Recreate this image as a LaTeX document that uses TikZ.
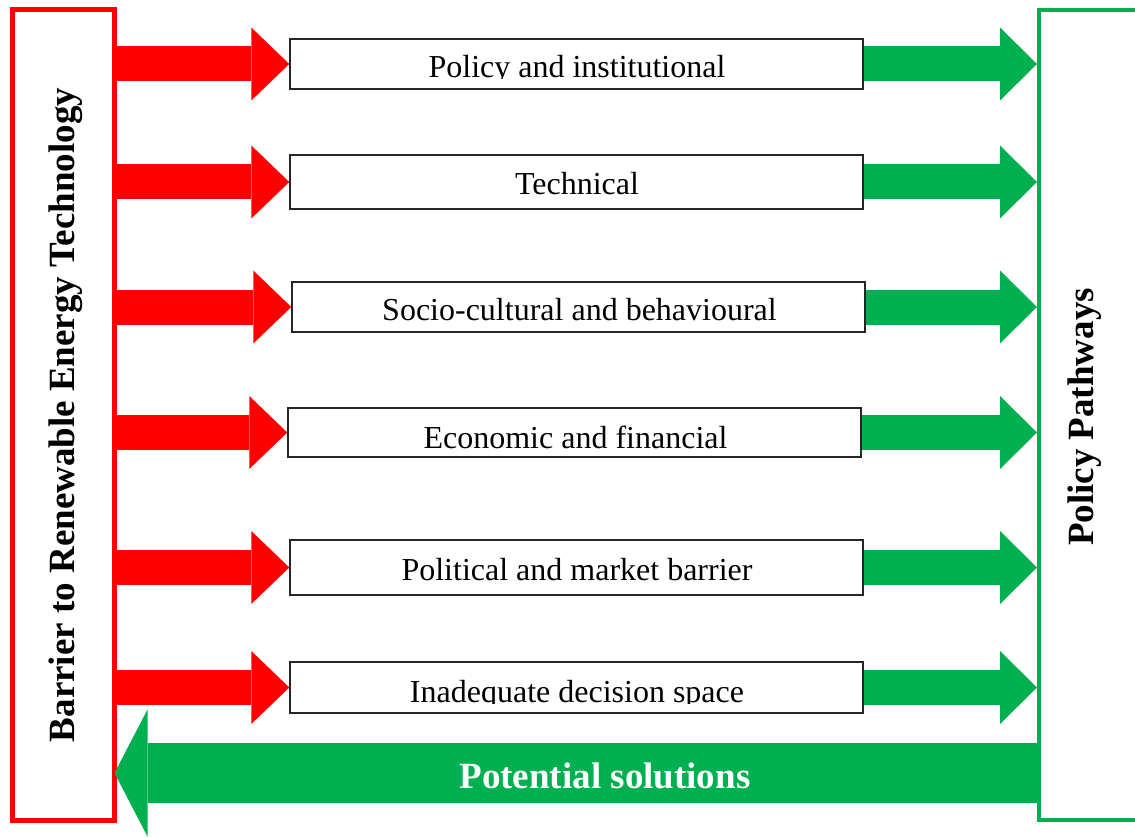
\documentclass[tikz,border=0pt]{standalone}
\usepackage{fontspec}
\setmainfont{Liberation Serif}
\usetikzlibrary{arrows.meta}
\definecolor{rojo}{RGB}{255,0,0}
\definecolor{verde}{RGB}{0,176,80}
\tikzset{
  caja/.style={draw=black!85, line width=1.4pt, minimum width=573pt, inner sep=0pt},
  texto/.style={anchor=base, inner sep=0pt, font=\fontsize{32}{38}\selectfont},
  titulo/.style={rotate=90, inner sep=0pt, font=\fontsize{37}{44}\selectfont\bfseries},
  flechaRoja/.style={rojo, line width=35pt, -{Triangle[length=38pt,width=73pt,line width=0pt]}},
  flechaVerde/.style={verde, line width=35pt, -{Triangle[length=37pt,width=73pt,line width=0pt]}},
}
\begin{document}
\begin{tikzpicture}[x=1pt,y=-1pt]
        \useasboundingbox (0,0) rectangle (1135,837);
        \clip (0,0) rectangle (1135,837);

        % Marcos laterales
        \node[draw=rojo, line width=5pt, minimum width=101.5pt, minimum height=810pt, inner sep=0pt] (barrera) at (63.25,415) {};
        \node[draw=verde, line width=4pt, minimum width=160pt, minimum height=810pt, inner sep=0pt] (vias) at (1119,415) {};
        \node[titulo] (tbarrera) at (66,415) {Barrier to Renewable Energy Technology};
        \node[titulo] (tvias) at (1085,417) {Policy Pathways};

        % Cajas de barreras
        \node[caja, minimum height=50pt] (c1) at (576.5,64) {};
        \node[caja, minimum height=54pt] (c2) at (576.5,182) {};
        \node[caja, minimum height=50pt] (c3) at (578.5,307) {};
        \node[caja, minimum height=49pt] (c4) at (574.5,432.5) {};
        \node[caja, minimum height=55pt] (c5) at (576.5,567.5) {};
        \node[caja, minimum height=51pt] (c6) at (576.5,687.5) {};

        % Textos (el primero y el ultimo salen cortados abajo)
        \begin{scope}
          \clip (290,39) rectangle (863,79);
          \node[texto] (t1) at (577,78) {Policy and institutional};
        \end{scope}
        \node[texto] (t2) at (577,195) {Technical};
        \node[texto] (t3) at (579.5,320) {Socio-cultural and behavioural};
        \node[texto] (t4) at (575.5,448) {Economic and financial};
        \node[texto] (t5) at (577,580) {Political and market barrier};
        \begin{scope}
          \clip (290,662) rectangle (863,703);
          \node[texto] (t6) at (577,702) {Inadequate decision space};
        \end{scope}

        % Flechas rojas y verdes
        \foreach \c in {c1,c2,c3,c4,c5,c6} {
          \draw[flechaRoja] (barrera.east |- \c) -- (\c.west);
          \draw[flechaVerde] (\c.east) -- (vias.west |- \c);
        }

        % Flecha grande de vuelta
        \coordinate (sol) at (0,773);
        \draw[verde, line width=60pt, -{Triangle[length=33pt,width=127pt,line width=0pt]}] (vias.west |- sol) -- ([xshift=-2pt]barrera.east |- sol);
        \node[anchor=base, inner sep=0pt, white, font=\fontsize{37}{44}\selectfont\bfseries] (tsol) at (605,788) {Potential solutions};
\end{tikzpicture}
\end{document}
